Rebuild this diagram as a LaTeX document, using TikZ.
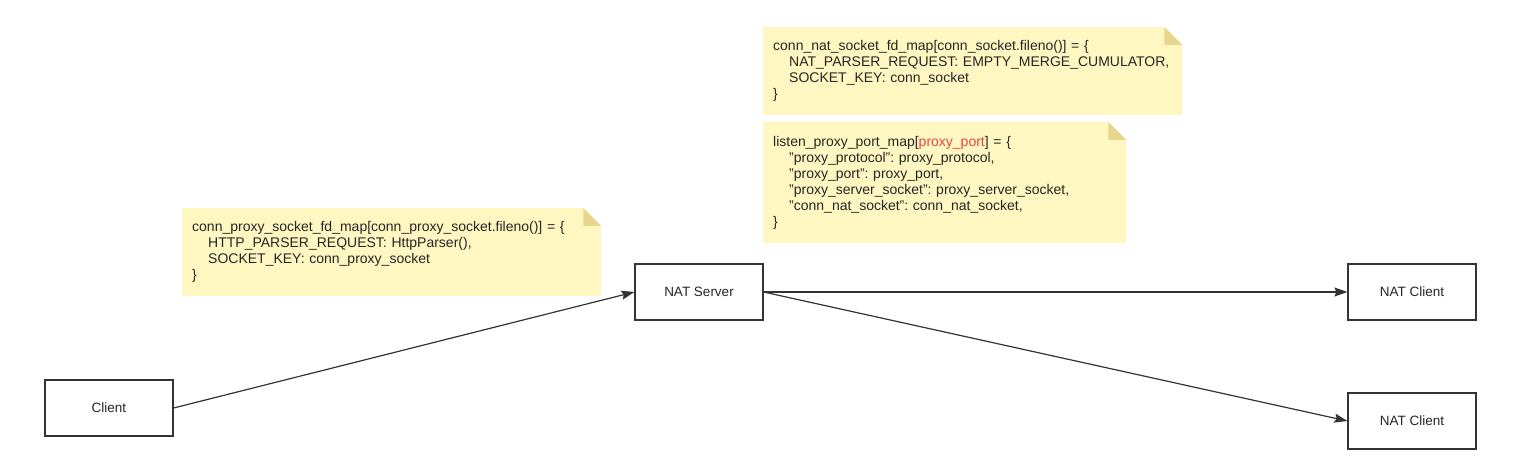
\documentclass[tikz,border=0pt]{standalone}
\usepackage{fontspec}
\setmainfont{Liberation Sans}
\usepackage{tikz}
\usetikzlibrary{positioning,calc,arrows.meta}

\definecolor{notefill}{HTML}{FFF7C1}
\definecolor{notefold}{HTML}{E8D68E}
\definecolor{boxline}{HTML}{333333}
\definecolor{keyred}{HTML}{E8463F}

\tikzset{
  hostbox/.style={draw=boxline, line width=1.2pt, fill=white, minimum width=128pt, minimum height=56pt, font=\fontsize{13.5}{16}\selectfont, text=black!85},
  note/.style={fill=notefill, anchor=north west, align=left, inner xsep=10pt, inner ysep=0pt, font=\fontsize{14}{16}\selectfont, text=black!85},
  link/.style={draw=boxline, line width=1.2pt, -{Stealth[length=13pt,width=9pt,inset=2pt]}}
}
\newcommand{\ind}{\hspace*{16pt}}
\newcommand{\dogear}[1]{%
  \fill[white] ($(#1.north east)+(-18,0)$) -- (#1.north east) -- ($(#1.north east)+(0,18)$) -- cycle;
  \fill[notefold] ($(#1.north east)+(-18,0)$) -- ($(#1.north east)+(-18,18)$) -- ($(#1.north east)+(0,18)$) -- cycle;}

\begin{document}
\frenchspacing
\begin{tikzpicture}[x=1pt, y=-1pt]
  \useasboundingbox (0,0) rectangle (1537,470);

  % notes
  \node[note, text width=399pt, minimum height=88pt] (proxynote) at (182,208) {%
    conn\_proxy\_socket\_fd\_map[conn\_proxy\_socket.fileno()] = \{\\
    \ind HTTP\_PARSER\_REQUEST: HttpParser(),\\
    \ind SOCKET\_KEY: conn\_proxy\_socket\\
    \}};
  \dogear{proxynote}
  \node[note, text width=399pt, minimum height=88pt] (natnote) at (763,27) {%
    conn\_nat\_socket\_fd\_map[conn\_socket.fileno()] = \{\\
    \ind NAT\_PARSER\_REQUEST: EMPTY\_MERGE\_CUMULATOR,\\
    \ind SOCKET\_KEY: conn\_socket\\
    \}};
  \dogear{natnote}
  \node[note, text width=343pt, minimum height=121pt] (portnote) at (763,122) {%
    listen\_proxy\_port\_map[\textcolor{keyred}{proxy\_port}] = \{\\
    \ind "proxy\_protocol": proxy\_protocol,\\
    \ind "proxy\_port": proxy\_port,\\
    \ind "proxy\_server\_socket": proxy\_server\_socket,\\
    \ind "conn\_nat\_socket": conn\_nat\_socket,\\
    \}};
  \dogear{portnote}

  % hosts
  \node[hostbox] (client) at (109,408) {Client};
  \node[hostbox] (server) at (699,292) {NAT Server};
  \node[hostbox] (natA) at (1412,292) {NAT Client};
  \node[hostbox] (natB) at (1412,421) {NAT Client};

  \draw[link] (client.east) -- (server.west);
  \draw[link] (server.east) -- (natA.west);
  \draw[link] (server.east) -- (natB.west);
\end{tikzpicture}
\end{document}
